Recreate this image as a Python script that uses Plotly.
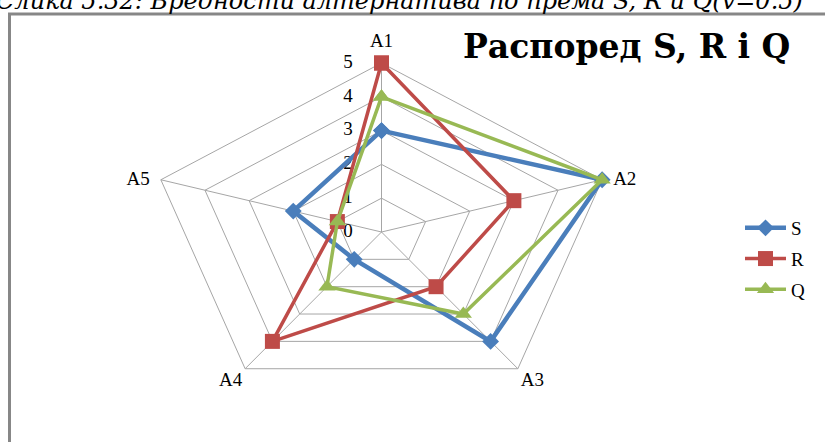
import math
import plotly.graph_objects as go

# Alternatives (spokes) and the ranks of each alternative under S, R and Q
categories = ["A1", "A2", "A3", "A4", "A5"]
s_values = [3, 5, 4, 1, 2]
r_values = [5, 3, 2, 4, 1]
q_values = [4, 5, 3, 2, 1]
radial_ticks = [0, 1, 2, 3, 4, 5]
radial_max = 5

title_text = "Распоред S, R i Q"
caption_text = "Слика 5.32: Вредности алтернатива по према S, R и Q(v=0.5)"

# spokes run clockwise starting at the top
angles = [math.radians(90 - 360 / len(categories) * i) for i in range(len(categories))]


def to_xy(values, closed=True):
    xs = [v * math.cos(a) for v, a in zip(values, angles)]
    ys = [v * math.sin(a) for v, a in zip(values, angles)]
    if closed:
        xs.append(xs[0])
        ys.append(ys[0])
    return xs, ys


SERIF = "Liberation Serif"
GRID = "#a6a6a6"

fig = go.Figure()

# concentric grid pentagons
for t in radial_ticks[1:]:
    gx, gy = to_xy([t] * len(categories))
    fig.add_trace(go.Scatter(x=gx, y=gy, mode="lines", hoverinfo="skip",
                             line=dict(color=GRID, width=1), showlegend=False))

# spokes
for a in angles:
    fig.add_trace(go.Scatter(x=[0, radial_max * math.cos(a)], y=[0, radial_max * math.sin(a)],
                             mode="lines", hoverinfo="skip",
                             line=dict(color=GRID, width=1), showlegend=False))

# radial tick labels along the first spoke
fig.add_trace(go.Scatter(x=[-0.72] * len(radial_ticks), y=radial_ticks, mode="text",
                         text=[str(t) for t in radial_ticks], hoverinfo="skip",
                         textfont=dict(family=SERIF, size=19, color="#000000"),
                         showlegend=False))

# spoke labels just outside the outer ring (transparent markers set the gap to the tips)
lx, ly = to_xy([radial_max] * len(categories), closed=False)
fig.add_trace(go.Scatter(x=lx, y=ly, mode="markers+text", text=categories, hoverinfo="skip",
                         marker=dict(size=[16, 16, 3, 3, 16], opacity=0),
                         textposition=["top center", "middle right", "bottom right",
                                       "bottom left", "middle left"],
                         textfont=dict(family=SERIF, size=19, color="#000000"),
                         showlegend=False))

series = [
    ("S", s_values, "#4a7ebb", 4.5, "diamond", 13),
    ("R", r_values, "#be4b48", 3.5, "square", 15),
    ("Q", q_values, "#98b954", 3.5, "triangle-up", 15),
]
for name, vals, color, lw, sym, ms in series:
    sx, sy = to_xy(vals)
    fig.add_trace(go.Scatter(x=sx, y=sy, mode="lines+markers", name=name,
                             legendgroup=name,
                             line=dict(color=color, width=lw),
                             marker=dict(symbol=sym, size=ms, color=color)))

# scale: ~46.4 px per unit horizontally, ~33.8 px per unit vertically
px_x, px_y = 46.4, 33.8
cx, cy = 381.5, 232.0
W, H = 825, 442

fig.update_layout(
    width=W, height=H,
    margin=dict(l=0, r=0, t=0, b=0),
    paper_bgcolor="white", plot_bgcolor="white",
    xaxis=dict(range=[-cx / px_x, (W - cx) / px_x], visible=False, fixedrange=True),
    yaxis=dict(range=[-(H - cy) / px_y, cy / px_y], visible=False, fixedrange=True),
    legend=dict(x=740 / W, y=1 - 209 / H, xanchor="left", yanchor="top",
                font=dict(family=SERIF, size=19, color="#000000"),
                itemwidth=41, tracegroupgap=3, bgcolor="rgba(0,0,0,0)"),
    shapes=[dict(type="rect", xref="paper", yref="paper",
                 x0=9.5 / W, x1=1.2, y0=-0.2, y1=1 - 14 / H,
                 line=dict(color="#878787", width=3), fillcolor="rgba(0,0,0,0)")],
    annotations=[
        dict(text="<b>" + title_text + "</b>", xref="paper", yref="paper",
             x=461 / W, y=1 - 47 / H, xanchor="left", yanchor="middle", showarrow=False,
             font=dict(family="DejaVu Serif", size=33, color="#000000")),
        dict(text="<i>" + caption_text + "</i>", xref="paper", yref="paper",
             x=-6 / W, y=1 - 17 / H, xanchor="left", yanchor="bottom", showarrow=False,
             font=dict(family="DejaVu Serif", size=24, color="#000000")),
    ],
)

fig.write_html("out.html")
